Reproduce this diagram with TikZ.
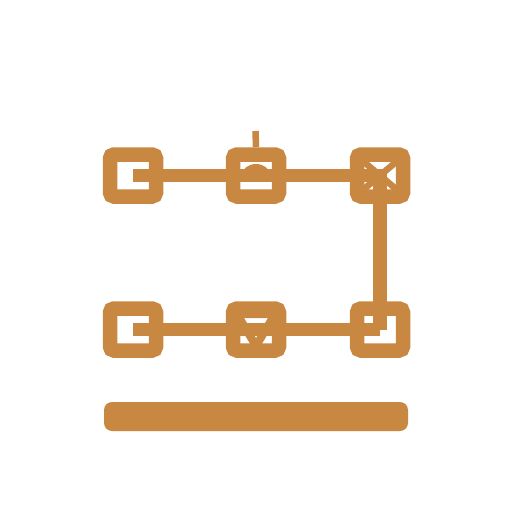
\documentclass[tikz,border=0pt]{standalone}
\definecolor{ochre}{RGB}{200,136,66}
\begin{document}
\begin{tikzpicture}[x=1pt,y=-1pt,
  boxnode/.style={draw=ochre,line width=14.5pt,fill=white,rectangle,rounded corners=4pt,
    minimum width=46pt,minimum height=42pt,inner sep=0pt},
  link/.style={draw=ochre,line width=13.5pt,line join=miter},
  glyph/.style={draw=ochre,line width=6.5pt}]
\useasboundingbox (0,0) rectangle (512,512);
\node[boxnode] (b1) at (133,175.5) {};
\node[boxnode] (b2) at (256,175.5) {};
\node[boxnode] (b3) at (380,175.5) {};
\node[boxnode] (b4) at (133,329.5) {};
\node[boxnode] (b5) at (256,329.5) {};
\node[boxnode] (b6) at (380,329.5) {};
% stub on box 2
\coordinate (s2) at (255.5,131);
\draw[ochre,line width=6.5pt] (b2.north) -- (s2);
% dome in box 2
\fill[ochre] (242,175) arc[start angle=180,end angle=360,x radius=14,y radius=11] -- cycle;
% X in box 3
\begin{scope}
\clip (364,162) rectangle (396,189);
\draw[glyph] (364,162) -- (396,189);
\draw[glyph] (396,162) -- (364,189);
\end{scope}
% inverted triangle in box 5
\begin{scope}
\clip (240,316) rectangle (272,343);
\draw[ochre,line width=8pt] (237,314) -- (275,314) -- (256,346) -- cycle;
\end{scope}
% connectors
\path[link] (b1.center) -- (b2.center) -- (b3.center) -- (b6.center);
\path[link] (b4.center) -- (b5.center) -- (b6.center);
% bottom bar
\node[fill=ochre,rounded corners=8pt,minimum width=304pt,minimum height=29pt,inner sep=0pt] (bar) at (256,416.5) {};
\end{tikzpicture}
\end{document}
